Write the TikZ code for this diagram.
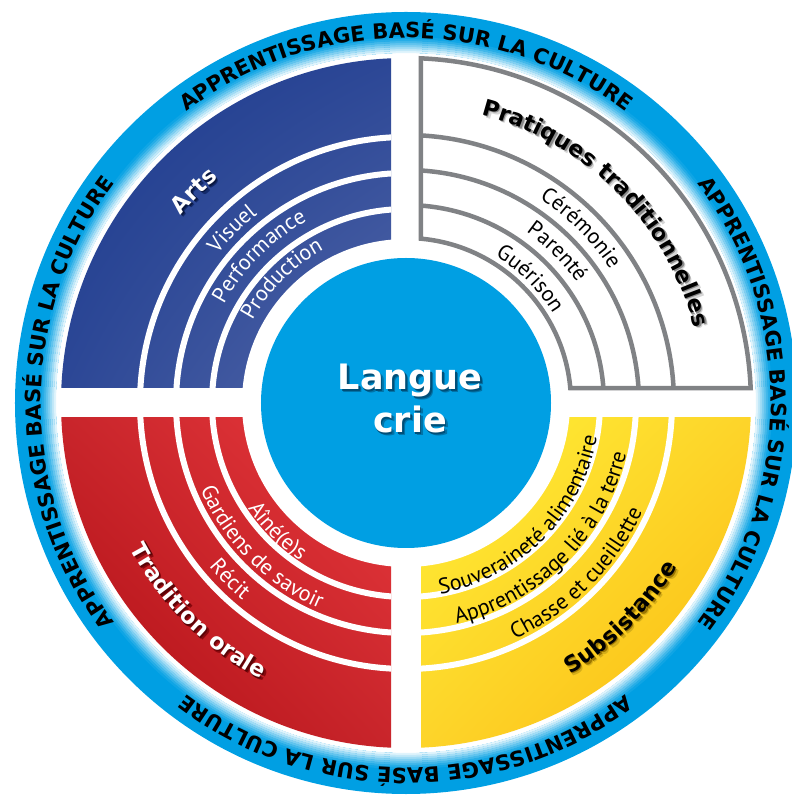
\documentclass[tikz,border=0pt]{standalone}
\usepackage{fontspec}
\setmainfont{PT Sans}
\newfontfamily\heavyfam{DejaVu Sans}
\usetikzlibrary{decorations.text,shadings}
\definecolor{ringblue}{HTML}{009FE3}
\definecolor{artsdark}{HTML}{1B3A8D}
\definecolor{artsmid}{HTML}{2C4796}
\definecolor{artslight}{HTML}{5267A8}
\definecolor{reddark}{HTML}{AE0C12}
\definecolor{redmid}{HTML}{C8252B}
\definecolor{redlight}{HTML}{EA3A3E}
\definecolor{yeldark}{HTML}{FBB80E}
\definecolor{yelmid}{HTML}{FDD42A}
\definecolor{yellight}{HTML}{FFF236}
\definecolor{linegray}{HTML}{808285}
\definecolor{artsshadow}{HTML}{0A173F}
\definecolor{redshadow}{HTML}{5A0407}
\definecolor{grayshadow}{HTML}{8A8A8A}
\definecolor{yelshadow}{HTML}{9A7400}
\definecolor{blueshadow}{HTML}{004F78}
% #1 path options, #2 radius, #3 start angle, #4 end angle, #5 format, #6 text
\newcommand\arctext[6]{%
  \path[#1, decorate, decoration={text along path, text align=center,
    text={|#5|#6}}] (#3:#2) arc[start angle=#3, end angle=#4, radius=#2];}
% title with a soft two-layer drop shadow
% #1 radius, #2 start, #3 end, #4 text colour, #5 near shadow, #6 far shadow, #7 text
\newcommand\titletext[7]{%
  \arctext{shadowfar}{#1}{#2}{#3}{\titfont\color{#6}}{#7}%
  \arctext{shadowshift}{#1}{#2}{#3}{\titfont\color{#5}}{#7}%
  \arctext{}{#1}{#2}{#3}{\titfont\color{#4}}{#7}}
\newcommand\subfont{\fontsize{22}{26}\selectfont}
\newcommand\titfont{\heavyfam\bfseries\fontsize{22.5}{27}\selectfont}
\newcommand\ringfont{\heavyfam\bfseries\fontsize{21}{25}\selectfont}
\newcommand\bigfont{\heavyfam\bfseries\fontsize{35}{40}\selectfont}
\begin{document}
\begin{tikzpicture}[x=1pt,y=1pt,
  whiteline/.style={white, line width=6},
  grayline/.style={linegray, line width=4.5},
  shadowshift/.style={shift={(1.5,-1.5)}},
  shadowfar/.style={shift={(2.8,-2.8)}},
  bigtext/.style={anchor=base, inner sep=0pt, font=\bigfont}]
\useasboundingbox (-406,-396) rectangle (385,403);
% outer ring with inner glow
\fill[ringblue] (0,0) circle (391);
\fill[white] (0,0) circle (350);
\foreach \r/\p in {351/88,353/76,355/63,357/50,359/38,361/26,363/15,365/6}
  \draw[line width=2.2, white!\p!ringblue] (0,0) circle (\r);
% Arts
\begin{scope}
  \clip (0,0) circle (345);
  \clip (-400,15) rectangle (-15,400);
  \shade[upper left=artsdark, upper right=artsmid, lower left=artsmid,
    lower right=artslight] (-345,15) rectangle (-15,345);
  \draw[whiteline] (0,0) circle (194) (0,0) circle (230) (0,0) circle (266);
\end{scope}
% Tradition orale
\begin{scope}
  \clip (0,0) circle (345);
  \clip (-400,-400) rectangle (-15,-15);
  \shade[lower left=reddark, upper left=redmid, lower right=redmid,
    upper right=redlight] (-345,-345) rectangle (-15,-15);
  \draw[whiteline] (0,0) circle (194) (0,0) circle (230) (0,0) circle (266);
\end{scope}
% Subsistance
\begin{scope}
  \clip (0,0) circle (345);
  \clip (15,-400) rectangle (400,-15);
  \shade[lower right=yeldark, upper right=yelmid, lower left=yelmid,
    upper left=yellight] (15,-345) rectangle (345,-15);
  \draw[whiteline] (0,0) circle (194) (0,0) circle (230) (0,0) circle (266);
\end{scope}
\fill[white] (0,0) circle (164);
% Pratiques traditionnelles outline
\pgfmathsetmacro\ao{acos(15/345)}
\pgfmathsetmacro\bo{asin(15/345)}
\pgfmathsetmacro\ai{acos(15/165)}
\pgfmathsetmacro\bi{asin(15/165)}
\draw[grayline, line join=miter] (\ao:345) -- (\ai:165)
  arc[start angle=\ai, end angle=\bi, radius=165] -- (\bo:345)
  arc[start angle=\bo, end angle=\ao, radius=345] -- cycle;
\foreach \r in {198,233,268}{
  \pgfmathsetmacro\aa{acos(15/\r)}
  \pgfmathsetmacro\bb{asin(15/\r)}
  \draw[grayline] (\aa:\r) arc[start angle=\aa, end angle=\bb, radius=\r];
}
% centre
\fill[ringblue] (0,0) circle (145);
\node[bigtext, text=blueshadow!55!ringblue] (langueshadowfar) at (7,10) {Langue};
\node[bigtext, text=blueshadow!55!ringblue] (crieshadowfar) at (7,-33) {crie};
\node[bigtext, text=blueshadow] (langueshadow) at (5.8,11.2) {Langue};
\node[bigtext, text=blueshadow] (crieshadow) at (5.8,-31.8) {crie};
\node[bigtext, text=white] (langue) at (4,13) {Langue};
\node[bigtext, text=white] (crie) at (4,-30) {crie};
% outer ring text
\foreach \s/\e in {135/45, 45/-45, -45/-135, -135/-225}
  \arctext{}{365}{\s}{\e}{\ringfont\color{black}}{APPRENTISSAGE BASÉ SUR LA CULTURE};
% Arts labels
\titletext{293}{180}{90}{white}{artsshadow}{artsshadow!45!artsdark}{Arts}
\arctext{}{240}{180}{90}{\subfont\color{white}}{Visuel}
\arctext{}{207}{180}{90}{\subfont\color{white}}{Performance}
\arctext{}{174}{180}{90}{\subfont\color{white}}{Production}
% Pratiques labels
\titletext{298}{90}{0}{black}{grayshadow}{grayshadow!35!white}{Pratiques traditionnelles}
\arctext{}{244}{90}{0}{\subfont\color{black}}{Cérémonie}
\arctext{}{209}{90}{0}{\subfont\color{black}}{Parenté}
\arctext{}{172}{90}{0}{\subfont\color{black}}{Guérison}
% Tradition orale labels
\titletext{312}{180}{270}{white}{redshadow}{redshadow!45!reddark}{Tradition orale}
\arctext{}{190}{180}{270}{\subfont\color{white}}{Aîné(e)s}
\arctext{}{223}{180}{270}{\subfont\color{white}}{Gardiens de savoir}
\arctext{}{256}{180}{270}{\subfont\color{white}}{Récit}
% Subsistance labels
\titletext{317}{270}{360}{black}{yelshadow}{yelshadow!40!yelmid}{Subsistance}
\arctext{}{194}{270}{360}{\subfont\color{black}}{Souveraineté alimentaire}
\arctext{}{226}{270}{360}{\subfont\color{black}}{Apprentissage lié à la terre}
\arctext{}{260}{270}{360}{\subfont\color{black}}{Chasse et cueillette}
\end{tikzpicture}
\end{document}
